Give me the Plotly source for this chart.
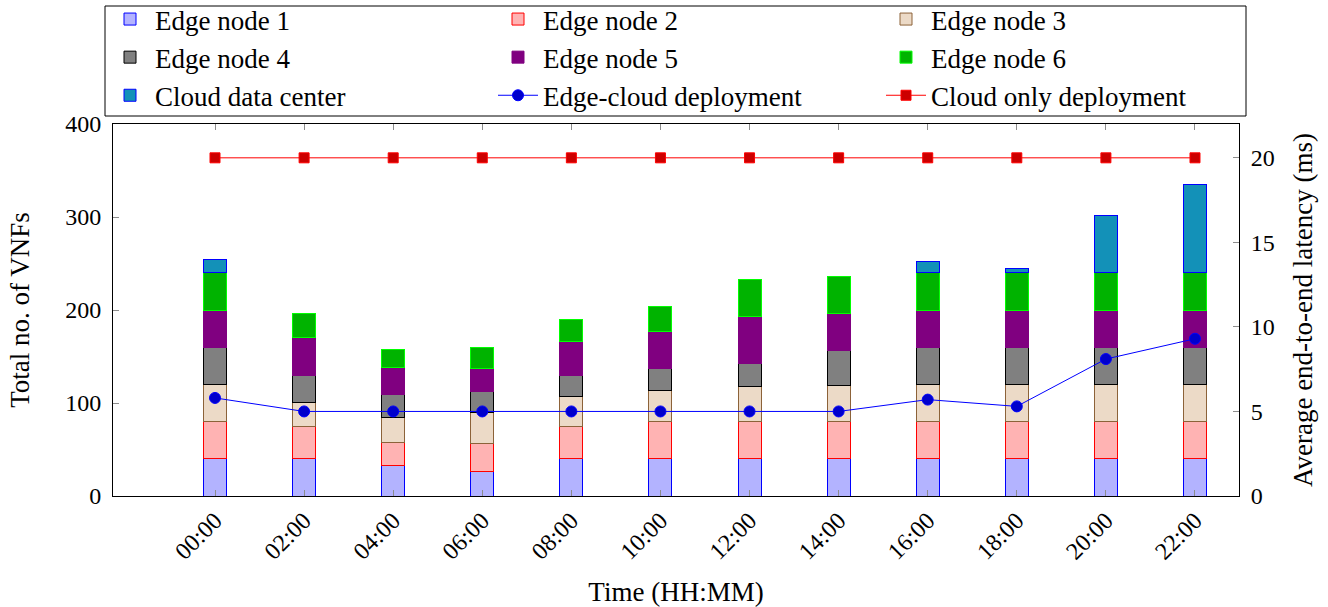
import plotly.graph_objects as go

# Time slots (two-hour steps)
times = ["00:00", "02:00", "04:00", "06:00", "08:00", "10:00",
         "12:00", "14:00", "16:00", "18:00", "20:00", "22:00"]

# VNFs placed on each node per time slot
edge1 = [40, 40, 33, 26, 40, 40, 40, 40, 40, 40, 40, 40]
edge2 = [40, 35, 25, 30, 35, 40, 40, 40, 40, 40, 40, 40]
edge3 = [40, 26, 26, 34, 32, 33, 38, 39, 40, 40, 40, 40]
edge4 = [40, 29, 25, 22, 23, 24, 25, 37, 40, 40, 40, 40]
edge5 = [40, 40, 29, 25, 36, 40, 50, 40, 40, 40, 40, 40]
edge6 = [40, 26, 20, 23, 24, 27, 40, 40, 40, 40, 40, 40]
cloud = [14, None, None, None, None, None, None, None, 12, 5, 62, 95]

# Average end-to-end latency (ms)
lat_edge_cloud = [5.8, 5.0, 5.0, 5.0, 5.0, 5.0, 5.0, 5.0, 5.7, 5.3, 8.1, 9.3]
lat_cloud_only = [20, 20, 20, 20, 20, 20, 20, 20, 20, 20, 20, 20]

FONT = "Liberation Serif, Times New Roman, DejaVu Serif, serif"
TXT = 27
TICK = 24
BAR_W = 0.258

bar_series = [
    ("Edge node 1", edge1, "#b3b3ff", "#0000ff"),
    ("Edge node 2", edge2, "#ffb3b3", "#ff0000"),
    ("Edge node 3", edge3, "#ecdac7", "#8c6239"),
    ("Edge node 4", edge4, "#808080", "#000000"),
    ("Edge node 5", edge5, "#800080", "#800080"),
    ("Edge node 6", edge6, "#00b300", "#00ff00"),
    ("Cloud data center", cloud, "#1391b8", "#0000ff"),
]

fig = go.Figure()
for name, vals, fill, edge in bar_series:
    fig.add_trace(go.Bar(
        x=times, y=vals, name=name, width=BAR_W,
        marker=dict(color=fill, line=dict(color=edge, width=1)),
        yaxis="y",
    ))

fig.add_trace(go.Scatter(
    x=times, y=lat_edge_cloud, name="Edge-cloud deployment",
    mode="lines+markers", yaxis="y2",
    line=dict(color="#0000ff", width=1),
    marker=dict(symbol="circle", size=11, color="#0000cc",
                line=dict(color="#0000ff", width=1)),
))
fig.add_trace(go.Scatter(
    x=times, y=lat_cloud_only, name="Cloud only deployment",
    mode="lines+markers", yaxis="y2",
    line=dict(color="#ff0000", width=1),
    marker=dict(symbol="square", size=10, color="#cc0000",
                line=dict(color="#ff0000", width=1)),
))

tick_common = dict(ticks="inside", ticklen=6, tickcolor="#8c8c8c", tickwidth=1,
                   showgrid=False, zeroline=False,
                   showline=True, linecolor="#000000", linewidth=1)

# legend frame (paper coordinates; plot area spans 113..1239 x 124..496 px)
PW, PH = 1126.0, 372.0
def px_x(p):
    return (p - 113) / PW
def px_y(p):
    return (496 - p) / PH

fig.add_shape(type="rect", xref="paper", yref="paper",
              x0=px_x(105), x1=px_x(1246), y0=px_y(116), y1=px_y(6),
              line=dict(color="black", width=1), fillcolor="rgba(0,0,0,0)")

fig.update_layout(
    width=1328, height=607,
    barmode="stack",
    paper_bgcolor="white", plot_bgcolor="white",
    margin=dict(l=113, r=89, t=124, b=111, autoexpand=False),
    font=dict(family=FONT, size=TXT, color="black"),
    showlegend=True,
    legend=dict(
        orientation="h", traceorder="normal",
        x=px_x(105), y=px_y(-5), xanchor="left", yanchor="top",
        itemwidth=40,
        entrywidth=333, entrywidthmode="pixels",
        borderwidth=0, bgcolor="rgba(0,0,0,0)",
        font=dict(family=FONT, size=TXT),
    ),
    xaxis=dict(
        type="category", range=[-1.145, 11.494],
        tickangle=-45, mirror="ticks",
        title=dict(text="Time (HH:MM)", font=dict(size=TXT), standoff=19),
        tickfont=dict(size=TICK),
        **tick_common,
    ),
    yaxis=dict(
        range=[0, 400], tickvals=[0, 100, 200, 300, 400],
        title=dict(text="Total no. of VNFs", font=dict(size=TXT), standoff=27),
        tickfont=dict(size=TICK), ticklabelstandoff=6,
        **tick_common,
    ),
    yaxis2=dict(
        overlaying="y", side="right", range=[0, 22],
        tickvals=[0, 5, 10, 15, 20],
        title=dict(text="Average end-to-end latency (ms)", font=dict(size=TXT), standoff=19),
        tickfont=dict(size=TICK), ticklabelstandoff=6,
        **tick_common,
    ),
)

fig.write_html("out.html")
